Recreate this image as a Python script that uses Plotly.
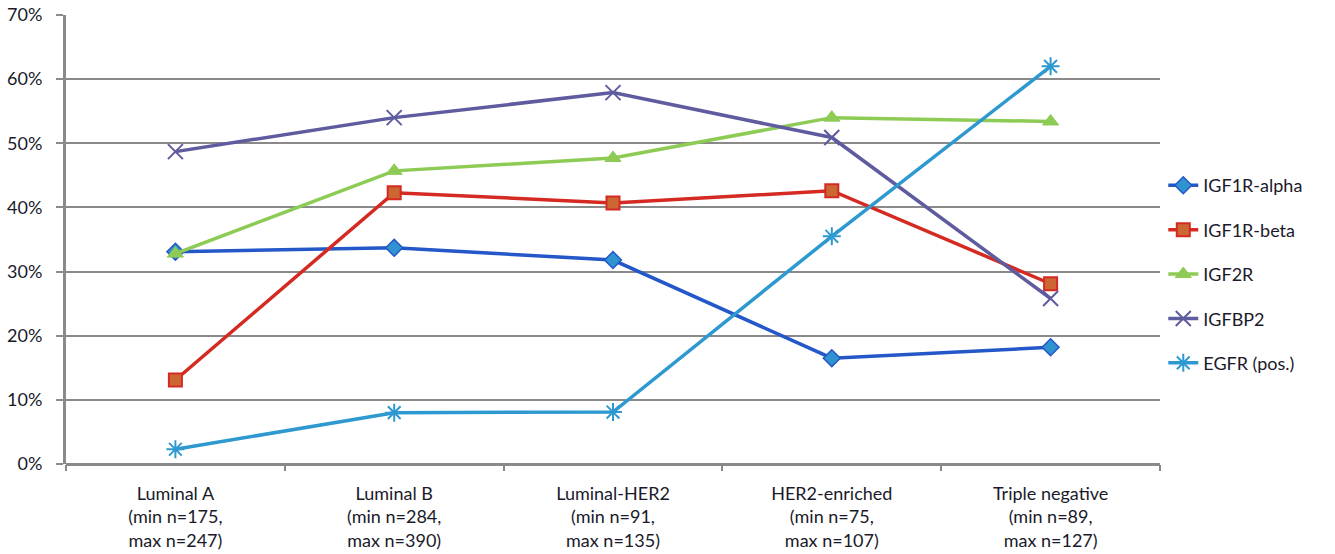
import plotly.graph_objects as go

# Molecular subtypes (x axis) with sample-size ranges
subtypes = ["Luminal A", "Luminal B", "Luminal-HER2", "HER2-enriched", "Triple negative"]
min_n = [175, 284, 91, 75, 89]
max_n = [247, 390, 135, 107, 127]

# Percentage of positive cases per marker
igf1r_alpha = [33.1, 33.7, 31.8, 16.5, 18.2]
igf1r_beta = [13.1, 42.3, 40.7, 42.6, 28.1]
igf2r = [32.8, 45.7, 47.7, 54.0, 53.4]
igfbp2 = [48.7, 54.0, 57.9, 50.9, 25.8]
egfr_pos = [2.3, 8.0, 8.1, 35.5, 62.0]

y_ticks = [0, 10, 20, 30, 40, 50, 60, 70]

labels = [f"{s}<br>(min n={a},<br>max n={b})" for s, a, b in zip(subtypes, min_n, max_n)]

series = [
    ("IGF1R-alpha", igf1r_alpha, "#2457C8", dict(symbol="diamond", size=13, color="#2F93CF",
                                                  line=dict(color="#2457C8", width=1.5))),
    ("IGF1R-beta", igf1r_beta, "#D42A22", dict(symbol="square", size=13, color="#CC6633",
                                                line=dict(color="#D42A22", width=2))),
    ("IGF2R", igf2r, "#8DCB55", dict(symbol="triangle-up", size=14, color="#8DCB55",
                                     line=dict(color="#8DCB55", width=1))),
    ("IGFBP2", igfbp2, "#5E5B9E", dict(symbol="x-thin", size=15, color="#5E5B9E",
                                       line=dict(color="#5E5B9E", width=2))),
    ("EGFR (pos.)", egfr_pos, "#2E99D0", dict(symbol="asterisk", size=15, color="#2E99D0",
                                              line=dict(color="#2E99D0", width=2))),
]

fig = go.Figure()
for i, (name, vals, col, mk) in enumerate(series):
    fig.add_trace(go.Scatter(
        x=labels, y=vals, name=name, mode="lines+markers",
        line=dict(color=col, width=3.5), marker=mk, legendgroup=f"g{i}",
    ))

font_family = "Lato, 'Open Sans', sans-serif"
text_col = "#1a1a2a"

fig.update_layout(
    width=1335, height=554,
    margin=dict(l=66, r=175, t=15, b=90),
    paper_bgcolor="white", plot_bgcolor="white",
    font=dict(family=font_family, size=18, color=text_col),
    showlegend=True,
    legend=dict(x=1.003, y=0.423, xanchor="left", yanchor="middle",
                font=dict(size=18, color=text_col), tracegroupgap=18,
                bgcolor="rgba(0,0,0,0)"),
)

fig.update_xaxes(
    type="category", showgrid=False, showline=False, zeroline=False,
    ticks="outside", tickson="boundaries", ticklen=6, tickwidth=2, tickcolor="#888",
    tickfont=dict(size=18, family=font_family, color=text_col),
    ticklabelstandoff=17, automargin=False,
    range=[-0.5, 4.5],
)

fig.update_yaxes(
    range=[0, 70], tickvals=y_ticks, ticktext=[f"{v}%" for v in y_ticks],
    showgrid=True, gridcolor="#8a8a8a", gridwidth=2,
    showline=True, linecolor="#8a8a8a", linewidth=3,
    zeroline=True, zerolinecolor="#8a8a8a", zerolinewidth=3,
    ticks="outside", ticklen=7, tickwidth=2, tickcolor="#8a8a8a",
    tickfont=dict(size=18, family=font_family, color=text_col),
    ticklabelstandoff=10, automargin=False,
)

fig.write_html("out.html")
